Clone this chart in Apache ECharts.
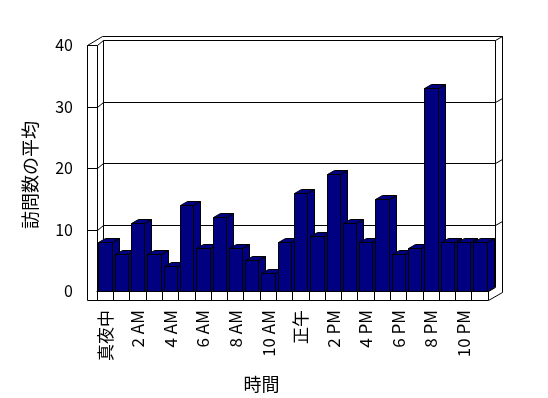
<!DOCTYPE html>
<html>
<head>
<meta charset="utf-8">
<script src="https://cdn.jsdelivr.net/npm/echarts@6/dist/echarts.min.js"></script>
<style>
html, body { margin: 0; padding: 0; background: #fff; }
#chart { width: 548px; height: 398px; }
</style>
</head>
<body>
<div id="chart"></div>
<script>
// データ
const hours = ['真夜中', '1 AM', '2 AM', '3 AM', '4 AM', '5 AM', '6 AM', '7 AM', '8 AM', '9 AM', '10 AM', '11 AM',
    '正午', '1 PM', '2 PM', '3 PM', '4 PM', '5 PM', '6 PM', '7 PM', '8 PM', '9 PM', '10 PM', '11 PM'];
const visits = [8, 6, 11, 6, 4, 14, 7, 12, 7, 5, 3, 8, 16, 9, 19, 11, 8, 15, 6, 7, 33, 8, 8, 8];
const yTicks = [0, 10, 20, 30, 40];

// grid (front plane)
const GL = 97, GR = 488, GT = 45, GB = 291;
const BAR_DX = 7, BAR_DY = 4;
const FONT = '"Noto Sans CJK JP", "Noto Sans", sans-serif';

const chart = echarts.init(document.getElementById('chart'));

function renderBar(params, api) {
    const i = api.value(0), v = api.value(1);
    const top = api.coord([i, v]);
    const base = api.coord([i, 0]);
    const w = api.size([1, 0])[0] * 0.82;
    const x0 = Math.round(top[0] - w / 2) + 0.5, x1 = Math.round(top[0] + w / 2) + 0.5;
    const yT = Math.round(top[1]) + 0.5, yB = Math.round(base[1]) + 0.5;
    const style = { fill: '#000080', stroke: '#000', lineWidth: 1 };
    return {
        type: 'group',
        children: [
            { type: 'polygon', shape: { points: [[x1, yB], [x1 + BAR_DX, yB - BAR_DY], [x1 + BAR_DX, yT - BAR_DY], [x1, yT]] }, style: style },
            { type: 'polygon', shape: { points: [[x0, yT], [x0 + BAR_DX, yT - BAR_DY], [x1 + BAR_DX, yT - BAR_DY], [x1, yT]] }, style: style },
            { type: 'rect', shape: { x: x0, y: yT, width: x1 - x0, height: yB - yT }, style: style }
        ]
    };
}

chart.setOption({
    animation: false,
    backgroundColor: '#fff',
    grid: { left: GL, right: 548 - GR, top: GT, bottom: 398 - GB },
    xAxis: {
        type: 'category',
        data: hours,
        name: '時間',
        nameLocation: 'middle',
        nameGap: 84,
        nameTextStyle: { fontSize: 18, color: '#000', fontFamily: FONT, padding: [0, 62, 0, 0] },
        axisLine: { show: true, lineStyle: { color: '#000', width: 1 } },
        axisTick: { show: true, interval: 0, length: 9, lineStyle: { color: '#000' } },
        axisLabel: { interval: 1, rotate: 90, margin: 19, fontSize: 17, color: '#000', fontFamily: FONT }
    },
    yAxis: {
        type: 'value',
        min: 0,
        max: 40,
        interval: 10,
        offset: 10,
        name: '訪問数の平均',
        nameLocation: 'middle',
        nameGap: 48,
        nameTextStyle: { fontSize: 18, color: '#000', fontFamily: FONT, padding: [0, 14, 0, 0] },
        axisLine: { show: false },
        axisTick: { show: false },
        splitLine: { show: false },
        axisLabel: { margin: 14, fontSize: 16, color: '#000', fontFamily: FONT }
    },
    series: [{
        type: 'custom',
        renderItem: renderBar,
        data: visits.map((v, i) => [i, v]),
        encode: { x: 0, y: 1 }
    }]
});

// 3D walls and floor
const lines = [];
function L(x1, y1, x2, y2) {
    lines.push({
        type: 'line', silent: true,
        shape: { x1: x1 + 0.5, y1: y1 + 0.5, x2: x2 + 0.5, y2: y2 + 0.5 },
        style: { stroke: '#000', lineWidth: 1 }
    });
}
const yOf = v => Math.round(chart.convertToPixel({ yAxisIndex: 0 }, v));
const AX = GL - 10, BX = GL + 6, RX = GR + 7, RO = GR + 14;
const yTop = yOf(40), y0 = yOf(0);
L(AX, yTop, AX, y0 + 9);               // left front edge
L(GL, yTop, GL, y0);                   // left wall inner
L(AX, yTop, GL + 5, yTop - 9);         // top-left diagonal
L(GL + 5, yTop - 9, RO, yTop - 9);     // back wall top
L(RO, yTop - 9, RO, y0 + 1);           // right outer
L(BX, yTop - 5, BX, y0 - 5);           // back wall left
L(RX, yTop - 5, RX, y0 - 4);           // back wall right
L(BX, y0 - 5, RX, y0 - 5);             // floor back
L(GL, y0, BX, y0 - 5);
L(AX, y0 + 9, GR, y0 + 9);             // floor front bottom
L(GR, y0 + 9, RO, y0 + 1);
L(GR, y0, RX, y0 - 4);
yTicks.forEach(v => {
    if (v === 0) return;
    const y = yOf(v);
    L(AX, y, GL, y);
    L(GL, y, BX, y - 5);
    L(BX, y - 5, RX, y - 5);
    L(RX, y - 5, RO, y - 9);
});
chart.setOption({ graphic: { elements: lines } });
</script>
</body>
</html>
